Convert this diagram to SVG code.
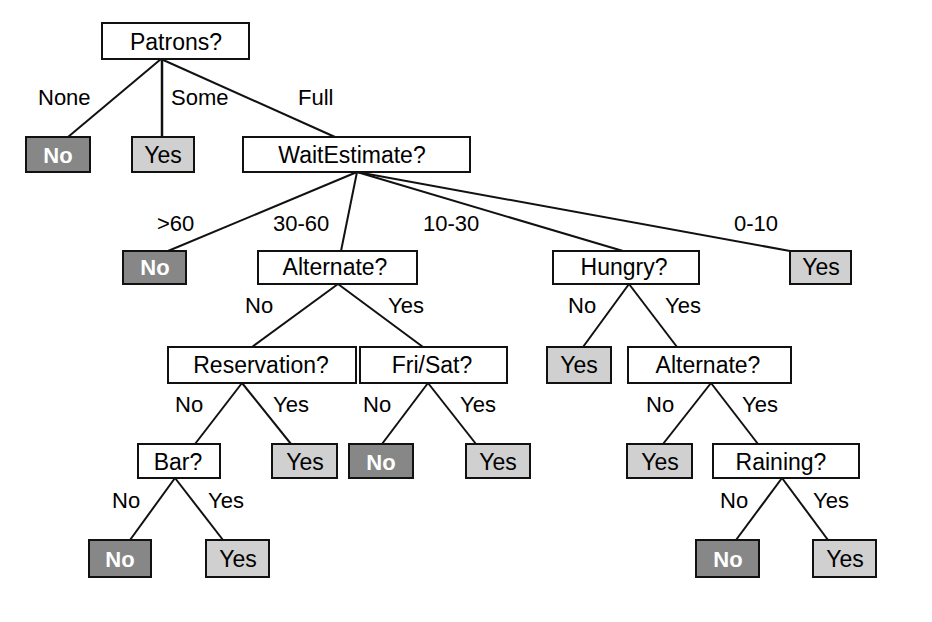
<svg xmlns="http://www.w3.org/2000/svg" width="932" height="622" viewBox="0 0 932 622">
<style>
  .q rect { fill: #ffffff; stroke: #111; stroke-width: 2; }
  .yes rect { fill: #d0d0d0; stroke: #111; stroke-width: 2; }
  .no rect { fill: #878787; stroke: #111; stroke-width: 2; }
  text { font-family: "Liberation Sans", Arial, sans-serif; }
  .q text, .yes text { font-size: 23px; fill: #000; text-anchor: middle; }
  .no text { font-size: 22px; font-weight: bold; fill: #fff; text-anchor: middle; }
  .lbl { font-size: 22px; fill: #000; }
  #edges line { stroke: #111; stroke-width: 2; }
</style>
<rect width="932" height="622" fill="#ffffff"/>
<g id="edges">
  <line x1="161" y1="59" x2="68" y2="137"/>
  <line x1="162" y1="59" x2="162" y2="137" style="stroke-width:2.5"/>
  <line x1="161" y1="59" x2="335" y2="137"/>
  <line x1="357" y1="172" x2="168" y2="251"/>
  <line x1="357" y1="172" x2="341" y2="251"/>
  <line x1="357" y1="172" x2="623" y2="251"/>
  <line x1="357" y1="172" x2="790" y2="251"/>
  <line x1="338" y1="284" x2="252" y2="347"/>
  <line x1="338" y1="284" x2="423" y2="347"/>
  <line x1="629" y1="284" x2="583" y2="347"/>
  <line x1="629" y1="284" x2="677" y2="347"/>
  <line x1="242" y1="383" x2="195" y2="444"/>
  <line x1="242" y1="383" x2="291" y2="444"/>
  <line x1="428" y1="383" x2="382" y2="444"/>
  <line x1="428" y1="383" x2="476" y2="444"/>
  <line x1="711" y1="383" x2="663" y2="444"/>
  <line x1="711" y1="383" x2="758" y2="444"/>
  <line x1="175" y1="478" x2="130" y2="540"/>
  <line x1="175" y1="478" x2="223" y2="540"/>
  <line x1="782" y1="478" x2="736" y2="540"/>
  <line x1="782" y1="478" x2="828" y2="540"/>
</g>
<g id="edge-labels" class="lbl">
  <text class="lbl" x="38" y="105">None</text>
  <text class="lbl" x="171" y="105">Some</text>
  <text class="lbl" x="298" y="105">Full</text>
  <text class="lbl" x="157" y="231">&gt;60</text>
  <text class="lbl" x="273" y="231">30-60</text>
  <text class="lbl" x="423" y="231">10-30</text>
  <text class="lbl" x="734" y="231">0-10</text>
  <text class="lbl" x="245" y="313">No</text>
  <text class="lbl" x="388" y="313">Yes</text>
  <text class="lbl" x="568" y="313">No</text>
  <text class="lbl" x="665" y="313">Yes</text>
  <text class="lbl" x="175" y="412">No</text>
  <text class="lbl" x="273" y="412">Yes</text>
  <text class="lbl" x="363" y="412">No</text>
  <text class="lbl" x="460" y="412">Yes</text>
  <text class="lbl" x="646" y="412">No</text>
  <text class="lbl" x="742" y="412">Yes</text>
  <text class="lbl" x="112" y="508">No</text>
  <text class="lbl" x="208" y="508">Yes</text>
  <text class="lbl" x="720" y="508">No</text>
  <text class="lbl" x="813" y="508">Yes</text>
</g>
<g id="patrons" class="q"><rect x="102" y="23" width="147" height="36"/><text x="176" y="50">Patrons?</text></g>
<g id="no1" class="no"><rect x="26" y="137" width="64" height="35"/><text x="58" y="163">No</text></g>
<g id="yes1" class="yes"><rect x="132" y="137" width="62" height="35"/><text x="163" y="163">Yes</text></g>
<g id="waitestimate" class="q"><rect x="243" y="137" width="227" height="35"/><text x="352" y="163">WaitEstimate?</text></g>
<g id="no2" class="no"><rect x="123" y="251" width="63" height="33"/><text x="155" y="275">No</text></g>
<g id="alternate1" class="q"><rect x="258" y="251" width="159" height="33"/><text x="335" y="275">Alternate?</text></g>
<g id="hungry" class="q"><rect x="553" y="251" width="146" height="33"/><text x="624" y="275">Hungry?</text></g>
<g id="yes2" class="yes"><rect x="790" y="251" width="61" height="33"/><text x="821" y="275">Yes</text></g>
<g id="reservation" class="q"><rect x="168" y="347" width="188" height="36"/><text x="261" y="373">Reservation?</text></g>
<g id="frisat" class="q"><rect x="360" y="347" width="147" height="36"/><text x="432" y="373">Fri/Sat?</text></g>
<g id="yes3" class="yes"><rect x="547" y="347" width="64" height="36"/><text x="579" y="373">Yes</text></g>
<g id="alternate2" class="q"><rect x="628" y="347" width="163" height="36"/><text x="708" y="373">Alternate?</text></g>
<g id="bar" class="q"><rect x="138" y="444" width="82" height="34"/><text x="178" y="470">Bar?</text></g>
<g id="yes4" class="yes"><rect x="272" y="444" width="65" height="34"/><text x="305" y="470">Yes</text></g>
<g id="no3" class="no"><rect x="349" y="444" width="64" height="34"/><text x="381" y="470">No</text></g>
<g id="yes5" class="yes"><rect x="466" y="444" width="64" height="34"/><text x="498" y="470">Yes</text></g>
<g id="yes6" class="yes"><rect x="627" y="444" width="65" height="34"/><text x="660" y="470">Yes</text></g>
<g id="raining" class="q"><rect x="713" y="444" width="146" height="34"/><text x="781" y="470">Raining?</text></g>
<g id="no4" class="no"><rect x="89" y="540" width="62" height="37"/><text x="120" y="567">No</text></g>
<g id="yes7" class="yes"><rect x="206" y="540" width="63" height="37"/><text x="238" y="567">Yes</text></g>
<g id="no5" class="no"><rect x="696" y="540" width="63" height="37"/><text x="728" y="567">No</text></g>
<g id="yes8" class="yes"><rect x="813" y="540" width="63" height="37"/><text x="845" y="567">Yes</text></g>
</svg>
